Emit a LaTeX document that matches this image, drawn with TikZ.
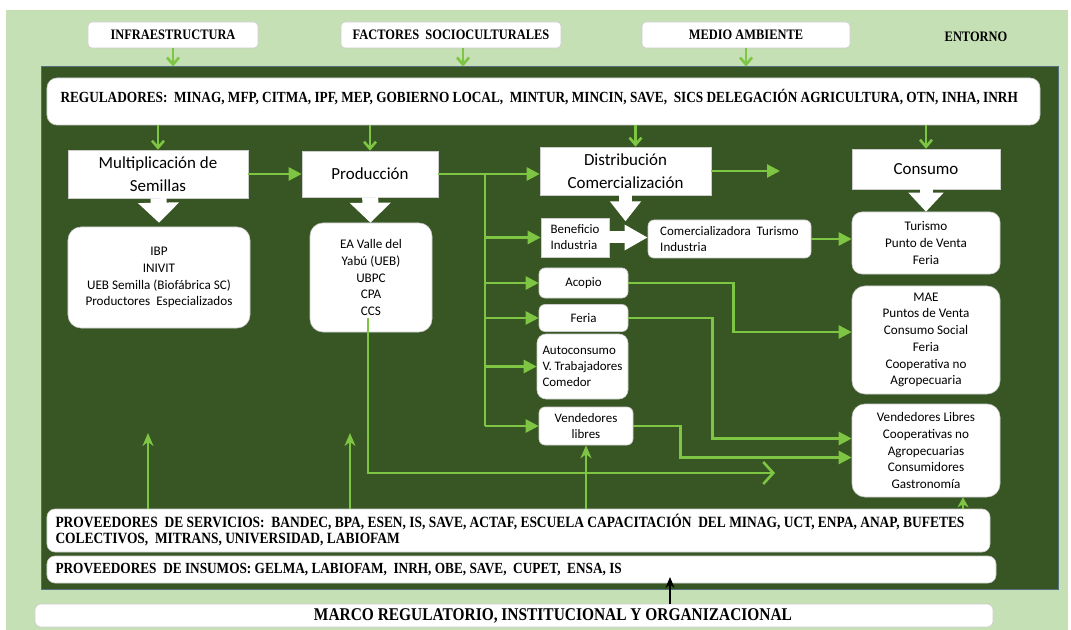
\documentclass[tikz,border=0pt]{standalone}
\usepackage{fontspec}
\setmainfont{Liberation Serif}
\newfontfamily\capsfont[FakeStretch=0.86]{Liberation Serif}
\newfontfamily\calfont{Carlito}
\usepackage{tikz}
\usetikzlibrary{arrows.meta,calc,positioning}
\definecolor{entorno}{RGB}{197,224,180}
\definecolor{verdeosc}{RGB}{56,86,35}
\definecolor{flecha}{RGB}{125,197,66}
\definecolor{borde}{RGB}{84,112,128}
\newcommand{\mayus}[2]{\capsfont\bfseries\fontsize{#1}{#2}\selectfont}
\newcommand{\cali}[2]{\calfont\fontsize{#1}{#2}\selectfont}

\begin{document}
\begin{tikzpicture}[x=1bp,y=-1bp]
\tikzset{
caja/.style={fill=white, draw=black!20, line width=0.6bp, inner sep=2bp},
etapa/.style={caja, font=\cali{17}{23}, align=center},
lista/.style={caja, rounded corners=13bp, font=\cali{13.2}{16.8}, align=center},
chica/.style={caja, rounded corners=6bp, font=\cali{13}{16.2}},
rotulo/.style={caja, rounded corners=4bp, font=\mayus{14.5}{17}},
flujo/.style={draw=flecha, line width=2.6bp, -{Triangle[length=13bp,width=13bp]}},
baja/.style={draw=flecha, line width=2.6bp, -{Straight Barb[length=7bp,width=12bp]}},
sube/.style={draw=flecha, line width=2.4bp, -{Stealth[length=13bp,width=11bp,inset=4bp]}},
bloque/.style={draw=white, line width=16bp, -{Triangle[length=20bp,width=40bp]}}
}
\useasboundingbox (0,0) rectangle (1071,630);
\fill[entorno] (6,10) rectangle (1068,630);
\node[draw=borde, fill=verdeosc, line width=1bp, minimum width=1016bp, minimum height=522bp, inner sep=0] (sistema) at (550,328) {};

% entorno
\node[rotulo, minimum width=170bp, minimum height=26bp] (infra) at (173,35) {INFRAESTRUCTURA};
\node[rotulo, minimum width=220bp, minimum height=26bp] (factores) at (451,35) {FACTORES\ \ SOCIOCULTURALES};
\node[rotulo, minimum width=208bp, minimum height=26bp] (medio) at (746,35) {MEDIO AMBIENTE};
\node[font=\mayus{14.5}{17}] (entornotxt) at (976,37) {ENTORNO};
\draw[baja] (infra) -- (infra |- sistema.north);
\draw[baja] ($(factores.south)+(12,0)$) -- ($(factores.south |- sistema.north)+(12,0)$);
\draw[baja] (medio) -- (medio |- sistema.north);

\node[caja, rounded corners=10bp, minimum width=993bp, minimum height=47bp] (regul) at (543.5,101.5) {};
\node[anchor=west, font=\mayus{15.5}{18}] (regultxt) at (57,97) {REGULADORES:\ \ MINAG, MFP, CITMA, IPF, MEP, GOBIERNO LOCAL,\ \ MINTUR, MINCIN, SAVE,\ \ SICS DELEGACIÓN AGRICULTURA, OTN, INHA, INRH};

% etapas
\node[etapa, minimum width=180bp, minimum height=48bp] (mult) at (158,174) {Multiplicación de\\Semillas};
\node[etapa, minimum width=136bp, minimum height=46bp] (prod) at (370,174) {Producción};
\node[etapa, minimum width=171bp, minimum height=48bp] (dist) at (625.5,171) {Distribución\\Comercialización};
\node[etapa, minimum width=148bp, minimum height=40bp] (cons) at (926,169) {Consumo};
\foreach \n in {mult,prod,cons}
  \draw[baja] (regul.south -| \n) -- (\n);
\draw[baja] ($(regul.south -| dist)+(10,0)$) -- ($(dist.north)+(10,0)$);

\node[lista, minimum width=182bp, minimum height=101bp] (multlist) at (159,277.5) {IBP\\INIVIT\\UEB Semilla (Biofábrica SC)\\Productores\ \ Especializados};
\node[lista, minimum width=122bp, minimum height=109bp] (prodlist) at (371,277.5) {EA Valle del\\Yabú (UEB)\\UBPC\\CPA\\CCS};
\node[caja, font=\cali{13}{16.2}, align=left, minimum width=68bp, minimum height=39bp] (benef) at (575,237.5) {Beneficio\\Industria};
\node[chica, align=left, minimum width=163bp, minimum height=38bp] (comerc) at (729.5,239) {Comercializadora\ \ Turismo\\Industria};
\node[chica, align=center, minimum width=89bp, minimum height=30bp] (acopio) at (583.5,283) {Acopio};
\node[chica, align=center, minimum width=89bp, minimum height=27bp] (feria) at (583.5,318) {Feria};
\node[chica, rounded corners=9bp, align=left, minimum width=91bp, minimum height=65bp] (autoc) at (582.5,366.5) {Autoconsumo\\V. Trabajadores\\Comedor};
\node[chica, align=center, minimum width=94bp, minimum height=38bp] (vlib) at (586,426) {Vendedores\\libres};
\node[lista, rounded corners=10bp, minimum width=148bp, minimum height=62bp] (turismo) at (926,243) {Turismo\\Punto de Venta\\Feria};
\node[lista, minimum width=148bp, minimum height=108bp] (mae) at (926,340) {MAE\\Puntos de Venta\\Consumo Social\\Feria\\Cooperativa no\\Agropecuaria};
\node[lista, minimum width=148bp, minimum height=93bp] (vlibres) at (926,450.5) {Vendedores Libres\\Cooperativas no\\Agropecuarias\\Consumidores\\Gastronomía};

% flechas blancas
\draw[bloque] (mult) -- ($(multlist.north)+(0,-4)$);
\draw[bloque] (prod) -- (prodlist);
\draw[bloque, line width=13bp, -{Triangle[length=20bp,width=30bp]}] (dist) -- ($(dist.south)+(0,26)$);
\draw[bloque, line width=13bp, -{Triangle[length=19bp,width=34bp]}] (cons) -- (turismo);
\draw[bloque, line width=12bp, -{Triangle[length=23bp,width=24bp]}] (benef) -- (benef -| comerc.west);

% flujos
\coordinate (tronco) at (485,174);
\coordinate (distout) at (780,171);
\draw[flujo] (mult) -- (prod);
\draw[flujo] (prod) -- (prod -| dist.west);
\draw[flujo] (dist) -- (distout);
\draw[draw=flecha, line width=2.6bp] (tronco) -- (tronco |- vlib);
\foreach \n in {benef,acopio,feria,autoc,vlib}
  \draw[flujo] (tronco |- \n) -- (\n);
\draw[flujo] (comerc) -- (comerc -| turismo.west);
\draw[flujo] (acopio.east) -- ++(105,0) |- ($(mae.west)+(0,-8)$);
\draw[flujo] (feria.east) -- ++(84,0) |- ($(vlibres.west)+(0,-12)$);
\draw[flujo] (vlib.east) -- ++(47,0) |- ($(vlibres.west)+(0,7)$);
\coordinate (ccs) at ($(prodlist.south)+(-3,-14)$);
\coordinate (ccsfin) at (775,473);
\draw[draw=flecha, line width=2.6bp, -{Straight Barb[length=10bp,width=22bp]}] (ccs) |- (ccsfin);

% proveedores y marco
\node[caja, rounded corners=8bp, minimum width=943bp, minimum height=43bp] (servic) at (518.5,530.5) {};
\node[anchor=west, align=left, font=\mayus{15.7}{17}] (servictxt) at (52,530) {PROVEEDORES\ \ DE SERVICIOS:\ \ BANDEC, BPA, ESEN, IS, SAVE, ACTAF, ESCUELA CAPACITACIÓN\ \ DEL MINAG, UCT, ENPA, ANAP, BUFETES\\COLECTIVOS,\ \ MITRANS, UNIVERSIDAD, LABIOFAM};
\node[caja, rounded corners=8bp, minimum width=949bp, minimum height=27bp] (insum) at (521.5,569.5) {};
\node[anchor=west, font=\mayus{15.5}{17}] (insumtxt) at (52,570) {PROVEEDORES\ \ DE INSUMOS: GELMA, LABIOFAM,\ \ INRH, OBE, SAVE,\ \ CUPET,\ \ ENSA, IS};
\node[caja, rounded corners=6bp, minimum width=958bp, minimum height=23bp] (marco) at (514,615.5) {};
\node[font=\mayus{18}{20}] (marcotxt) at (553,616) {MARCO REGULATORIO, INSTITUCIONAL Y ORGANIZACIONAL};

\coordinate (s1) at (148,433);
\coordinate (s2) at (350,433);
\coordinate (s3) at ($(vlibres.south)+(37,0)$);
\coordinate (m1) at (670,577);
\draw[sube] (servic.north -| s1) -- (s1);
\draw[sube] (servic.north -| s2) -- (s2);
\draw[sube] (servic.north -| vlib) -- (vlib);
\draw[sube, -{Stealth[length=10bp,width=11bp,inset=3bp]}] (servic.north -| s3) -- (s3);
\draw[line width=1.6bp, -{Stealth[length=11bp,width=9bp]}] (marco.north -| m1) -- (m1);
\end{tikzpicture}
\end{document}
